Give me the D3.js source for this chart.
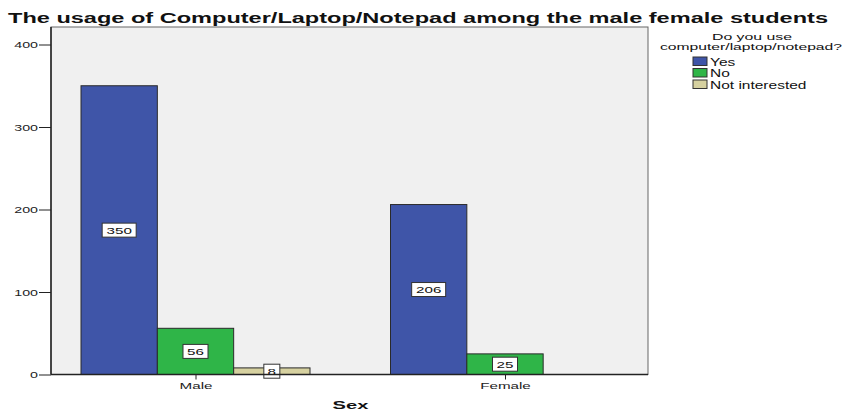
<!DOCTYPE html>
<html><head><meta charset="utf-8">
<script src="https://cdn.jsdelivr.net/npm/d3@7"></script>
<style>body{margin:0;background:#fff;}svg{display:block;font-family:"Liberation Sans",Arial,sans-serif;}</style>
</head><body><svg id="c" width="843" height="412"></svg>
<script>
const categories = ["Male", "Female"];
const seriesNames = ["Yes", "No", "Not interested"];
const yesValues = [350, 206];
const noValues = [56, 25];
const notInterestedValues = [8, 0];
const yTicks = [0, 100, 200, 300, 400];
const colors = ["#3f55a8", "#2fb548", "#d6d1a0"];
const seriesValues = [yesValues, noValues, notInterestedValues];

const svg = d3.select("#c");
const plot = {l: 51, r: 648, t: 27, b: 374.5};
const y = d3.scaleLinear().domain([0, 400]).range([374.5, 44.5]);
const xc = d3.scalePoint().domain(categories).range([195.5, 505]);
const groupW = 229;
const inner = d3.scaleBand().domain(seriesNames).range([-groupW/2, groupW/2]);

function sText(parent, x, yy, str, size, sx, anchor, weight) {
  const g = parent.append("g").attr("transform", `translate(${x},${yy}) scale(${sx},1)`);
  g.append("text").attr("text-anchor", anchor || "start").attr("font-size", size)
    .attr("font-weight", weight || "normal").attr("fill", "#111").text(str);
  return g;
}

svg.append("rect").attr("x", plot.l).attr("y", plot.t).attr("width", plot.r-plot.l).attr("height", plot.b-plot.t)
  .attr("fill", "#f0f0f0").attr("stroke", "#666").attr("stroke-width", 1);

svg.append("text").attr("x", 8).attr("y", 23).attr("font-size", 14.5).attr("font-weight", "bold").attr("fill", "#111")
  .attr("textLength", 820).attr("lengthAdjust", "spacingAndGlyphs")
  .text("The usage of Computer/Laptop/Notepad among the male female students");

// bars
const data = [];
categories.forEach((c, i) => seriesNames.forEach((s, j) => data.push({c, s, j, v: seriesValues[j][i]})));
const bars = data.filter(d => d.v > 0);
svg.selectAll("rect.bar").data(bars).join("rect").attr("class", "bar")
  .attr("x", d => xc(d.c) + inner(d.s)).attr("width", inner.bandwidth())
  .attr("y", d => y(d.v)).attr("height", d => y(0) - y(d.v))
  .attr("fill", d => colors[d.j]).attr("stroke", "#2a2a2a").attr("stroke-width", 1);

// labels
const lab = svg.selectAll("g.lab").data(bars).join("g").attr("class", "lab")
  .attr("transform", d => `translate(${xc(d.c) + inner(d.s) + inner.bandwidth()/2},${(y(d.v) + y(0))/2})`);
lab.each(function(d) {
  const g = d3.select(this);
  const w = String(d.v).length * 9 + 7;
  g.append("rect").attr("x", -w/2).attr("y", -7).attr("width", w).attr("height", 14).attr("fill", "#fff").attr("stroke", "#333");
  sText(g, 0, 3.5, d.v, 9.5, 1.6, "middle");
});

// axes
const ySx = 1.5;
const yAxis = d3.axisLeft(y).tickValues(yTicks).tickSize(12).tickPadding(1);
const gy = svg.append("g").attr("transform", `translate(${plot.l},0)`).call(yAxis);
gy.select(".domain").remove();
gy.selectAll("text").attr("font-size", 9.5).attr("fill", "#222").attr("font-family", "Liberation Sans, Arial, sans-serif")
  .attr("x", -13 / ySx).attr("transform", `scale(${ySx},1)`);
gy.selectAll("line").attr("stroke", "#222");

const xSx = 1.6;
const xAxis = d3.axisBottom(xc).tickSize(5).tickPadding(3);
const gx = svg.append("g").attr("transform", `translate(0,${plot.b})`).call(xAxis);
gx.select(".domain").remove();
gx.selectAll("text").attr("font-size", 9.5).attr("fill", "#222").attr("font-family", "Liberation Sans, Arial, sans-serif")
  .attr("transform", `scale(${xSx},1)`);
gx.selectAll("line").attr("stroke", "#222");
svg.append("line").attr("x1", plot.l).attr("x2", plot.r).attr("y1", plot.b).attr("y2", plot.b).attr("stroke", "#222").attr("stroke-width", 1.5);
svg.append("line").attr("x1", plot.l).attr("x2", plot.l).attr("y1", plot.t).attr("y2", plot.b).attr("stroke", "#222").attr("stroke-width", 1.5);

sText(svg, 350.5, 409, "Sex", 11.5, 1.75, "middle", "bold");

// legend
const lg = svg.append("g");
lg.append("text").attr("x", 752).attr("y", 39.5).attr("text-anchor", "middle").attr("font-size", 9.5).attr("fill", "#111")
  .attr("textLength", 80).attr("lengthAdjust", "spacingAndGlyphs").text("Do you use");
lg.append("text").attr("x", 751).attr("y", 50).attr("text-anchor", "middle").attr("font-size", 9.5).attr("fill", "#111")
  .attr("textLength", 182).attr("lengthAdjust", "spacingAndGlyphs").text("computer/laptop/notepad?");
const li = lg.selectAll("g.li").data(seriesNames).join("g").attr("class", "li").attr("transform", (d, i) => `translate(693,${57 + i*11.5})`);
li.append("rect").attr("width", 14).attr("height", 8.5).attr("fill", (d, i) => colors[i]).attr("stroke", "#333");
li.each(function(d) { sText(d3.select(this), 17, 8.5, d, 10, 1.55, "start"); });
</script></body></html>
